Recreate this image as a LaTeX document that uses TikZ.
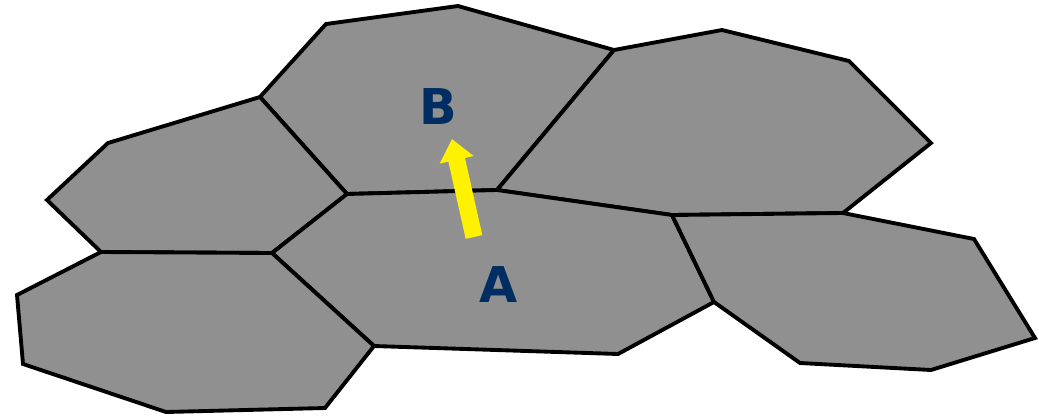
\documentclass[tikz,border=0pt]{standalone}
\usepackage{fontspec}
\setmainfont{DejaVu Sans}
\usetikzlibrary{arrows.meta}
\definecolor{cellgrey}{RGB}{144,144,144}
\definecolor{labelblue}{RGB}{0,45,98}
\begin{document}
\begin{tikzpicture}[x=0.75pt,y=-0.75pt,
        cell/.style={draw=black,fill=cellgrey,line width=2.9pt,line join=miter},
        lbl/.style={text=labelblue,inner sep=0pt,font=\bfseries\fontsize{37}{37}\selectfont}]
    \useasboundingbox (0,0) rectangle (1039,415);

    % cells
    \draw [cell] (260,97) -- (326,24) -- (458,6) -- (614,50) -- (497,190) -- (347,194) -- cycle;
    \draw [cell] (614,50) -- (722,30) -- (849,61) -- (931,143) -- (843,213) -- (672,215) -- (497,190) -- cycle;
    \draw [cell] (260,97) -- (108,143) -- (47,200) -- (101,252) -- (272,253) -- (347,194) -- cycle;
    \draw [cell] (347,194) -- (497,190) -- (672,215) -- (714,302) -- (618,354) -- (374,346) -- (272,253) -- cycle;
    \draw [cell] (101,252) -- (17,295) -- (23,364) -- (166,412) -- (325,408) -- (374,346) -- (272,253) -- cycle;
    \draw [cell] (672,215) -- (843,213) -- (974,239) -- (1035,338) -- (931,370) -- (800,363) -- (714,302) -- cycle;

    % move from A to B
    \coordinate (tail) at (474,237);
    \coordinate (tip) at (452,139);
    \draw [yellow,line width=12.75pt,-{Triangle[width=25pt,length=16pt]}] (tail) -- (tip);

    \node [lbl] (B) at (438,107) {B};
    \node [lbl] (A) at (499,285) {A};
\end{tikzpicture}
\end{document}
